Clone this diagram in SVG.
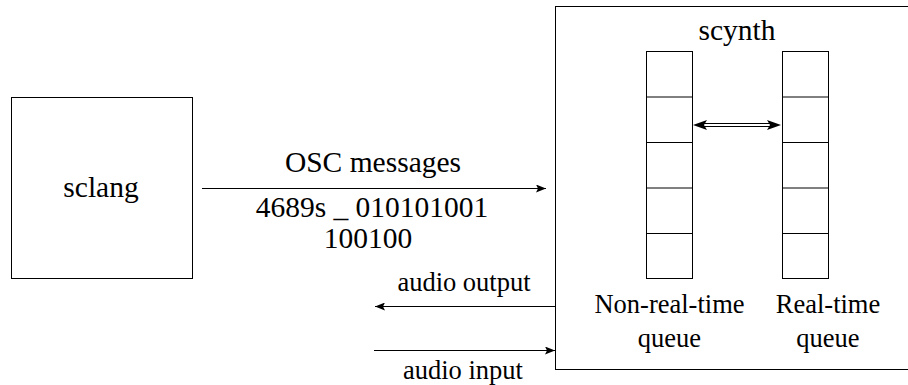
<svg xmlns="http://www.w3.org/2000/svg" width="908" height="385" viewBox="0 0 908 385">
<style>
.box{fill:none;stroke:#000;stroke-width:1}
.t{font-family:"Liberation Serif","DejaVu Serif",serif;fill:#000;text-anchor:middle}
.big{font-size:29.5px}
.sm{font-size:26.5px}
.ln{stroke:#000;stroke-width:1;fill:none}
</style>
<defs>
<marker id="ah" viewBox="0 0 10 8" refX="10" refY="4" markerWidth="10" markerHeight="8" markerUnits="userSpaceOnUse" orient="auto">
<path d="M0,0 L10,4 L0,8 L2,4 Z" fill="#000"/>
</marker>
</defs>
<g id="sclang">
<rect class="box" x="11.5" y="97.5" width="181" height="181"/>
<text class="t big" x="101" y="197">sclang</text>
</g>
<g id="scynth">
<rect class="box" x="555.5" y="6.5" width="360" height="363"/>
<text class="t big" x="737" y="40">scynth</text>
</g>
<g id="nrt-queue">
<rect class="box" x="646.5" y="51.5" width="46" height="227"/>
<line class="ln" x1="646.5" y1="97" x2="692.5" y2="97"/>
<line class="ln" x1="646.5" y1="142.5" x2="692.5" y2="142.5"/>
<line class="ln" x1="646.5" y1="188" x2="692.5" y2="188"/>
<line class="ln" x1="646.5" y1="233.5" x2="692.5" y2="233.5"/>
<text class="t sm" x="669.5" y="313">Non-real-time</text>
<text class="t sm" x="669.5" y="347">queue</text>
</g>
<g id="rt-queue">
<rect class="box" x="782.5" y="51.5" width="46" height="227"/>
<line class="ln" x1="782.5" y1="97" x2="828.5" y2="97"/>
<line class="ln" x1="782.5" y1="142.5" x2="828.5" y2="142.5"/>
<line class="ln" x1="782.5" y1="188" x2="828.5" y2="188"/>
<line class="ln" x1="782.5" y1="233.5" x2="828.5" y2="233.5"/>
<text class="t sm" x="828" y="313">Real-time</text>
<text class="t sm" x="828" y="347">queue</text>
</g>
<g id="connectors">
<line class="ln" x1="202" y1="188.5" x2="546" y2="188.5" marker-end="url(#ah)"/>
<text class="t big" x="373" y="172">OSC messages</text>
<text class="t big" x="372" y="217">4689s _ 010101001</text>
<text class="t big" x="368" y="248">100100</text>
<line class="ln" x1="555" y1="306.5" x2="375" y2="306.5" marker-end="url(#ah)"/>
<text class="t sm" x="464" y="291">audio output</text>
<line class="ln" x1="374" y1="350.5" x2="555" y2="350.5" marker-end="url(#ah)"/>
<text class="t sm" x="463" y="379">audio input</text>
<g id="double-arrow">
<line x1="702" y1="123.5" x2="772" y2="123.5" stroke="#000" stroke-width="1.2"/>
<line x1="702" y1="126.5" x2="772" y2="126.5" stroke="#000" stroke-width="1.2"/>
<path d="M693,125 L707,120 L704,125 L707,130 Z" fill="#000"/>
<path d="M781,125 L767,120 L770,125 L767,130 Z" fill="#000"/>
</g>
</g>
</svg>
